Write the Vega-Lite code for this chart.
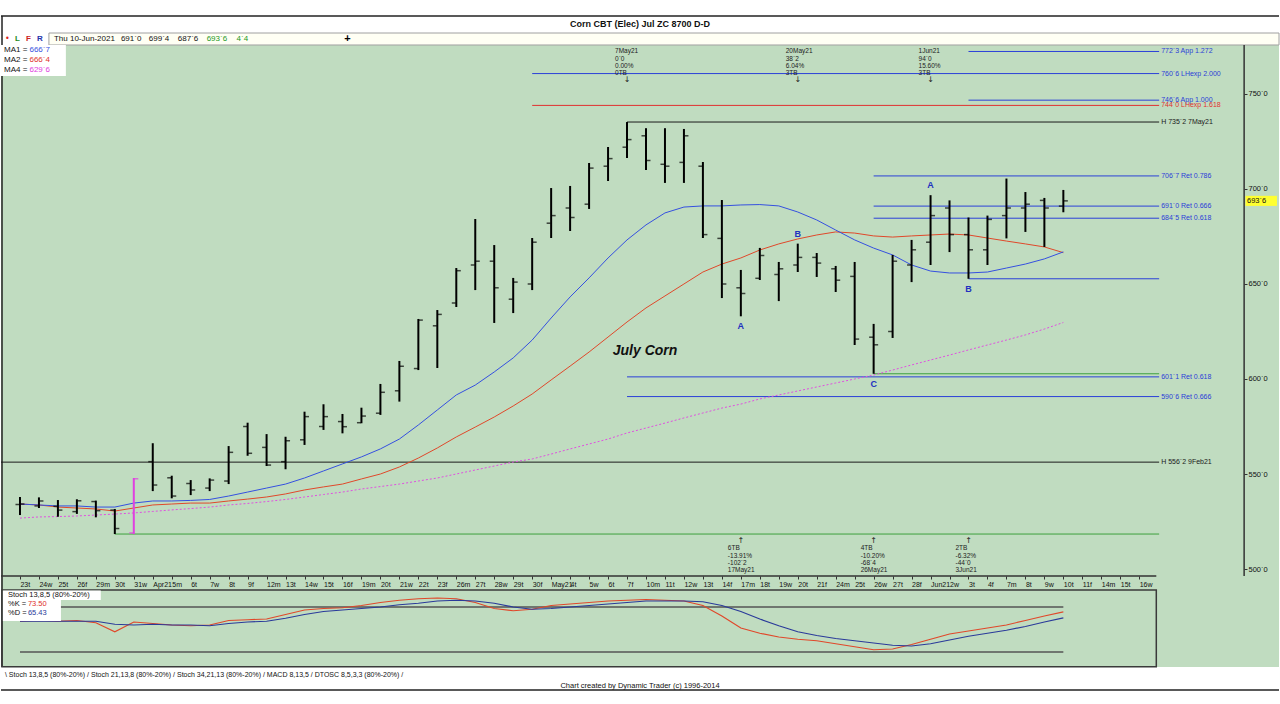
{
"$schema": "https://vega.github.io/schema/vega-lite/v6.json",
"width": 1280, "height": 704,
"autosize": {"type": "fit", "contains": "padding"},
"padding": 0,
"background": "#ffffff",
"config": {"view": {"stroke": null, "fill": "#C0DCC0"}, "text": {"font": "Liberation Sans"}, "axis": {"labelFont": "Liberation Sans"}},
"data": {"values": [{}]},
"datasets": {
"bars": [
{"i":0,"d":"2021-03-23","o":534,"h":537.9,"l":528.4,"c":534.2,"ma1":534.2,"ma2":534.2,"ma4":526.8,"k":61,"sd":61},
{"i":1,"d":"2021-03-24","o":533.2,"h":537.7,"l":532.1,"c":535.8,"ma1":533.7,"ma2":533.7,"ma4":527.4,"k":62,"sd":61},
{"i":2,"d":"2021-03-25","o":533,"h":536.3,"l":527.5,"c":531,"ma1":533.2,"ma2":532.6,"ma4":527.6,"k":61,"sd":61},
{"i":3,"d":"2021-03-26","o":530.2,"h":536.7,"l":529,"c":535.9,"ma1":533.2,"ma2":532.1,"ma4":527.9,"k":62,"sd":61},
{"i":4,"d":"2021-03-29","o":535.5,"h":536,"l":527.2,"c":530.7,"ma1":532.6,"ma2":531.6,"ma4":528.4,"k":59,"sd":61},
{"i":5,"d":"2021-03-30","o":531,"h":531.6,"l":518.4,"c":521.3,"ma1":532.6,"ma2":530.5,"ma4":528.9,"k":47,"sd":57},
{"i":6,"d":"2021-03-31","o":519,"h":547.9,"l":518.4,"c":547.5,"ma1":534.7,"ma2":532.1,"ma4":529.5,"k":60,"sd":56},
{"i":7,"d":"2021-04-01","o":556.5,"h":566.2,"l":541,"c":544.2,"ma1":535.8,"ma2":533.7,"ma4":530.3,"k":58,"sd":57},
{"i":8,"d":"2021-04-05","o":548,"h":549.1,"l":537.2,"c":538.4,"ma1":535.8,"ma2":534.2,"ma4":531.1,"k":56,"sd":56},
{"i":9,"d":"2021-04-06","o":545,"h":546.8,"l":538.9,"c":541.6,"ma1":536.1,"ma2":534.7,"ma4":531.8,"k":55,"sd":56},
{"i":10,"d":"2021-04-07","o":542.6,"h":547.7,"l":541,"c":546.8,"ma1":536.6,"ma2":534.7,"ma4":532.6,"k":56,"sd":55},
{"i":11,"d":"2021-04-08","o":546.3,"h":564.7,"l":544.7,"c":561.4,"ma1":538.4,"ma2":535.8,"ma4":533.7,"k":62,"sd":58},
{"i":12,"d":"2021-04-09","o":575,"h":577,"l":559.6,"c":560.9,"ma1":540.5,"ma2":536.8,"ma4":534.5,"k":63,"sd":60},
{"i":13,"d":"2021-04-12","o":564,"h":571,"l":554.2,"c":554.7,"ma1":542.6,"ma2":537.9,"ma4":535.5,"k":64,"sd":61},
{"i":14,"d":"2021-04-13","o":556.5,"h":569.6,"l":552.5,"c":567.5,"ma1":544.7,"ma2":539.5,"ma4":536.6,"k":70,"sd":65},
{"i":15,"d":"2021-04-14","o":568,"h":582.8,"l":565.3,"c":580.2,"ma1":547.9,"ma2":541.6,"ma4":537.9,"k":76,"sd":70},
{"i":16,"d":"2021-04-15","o":575,"h":586.7,"l":573.2,"c":580.2,"ma1":551.6,"ma2":543.2,"ma4":539.2,"k":78,"sd":74},
{"i":17,"d":"2021-04-16","o":577.6,"h":581.6,"l":571.4,"c":574.9,"ma1":555.3,"ma2":544.7,"ma4":540.5,"k":79,"sd":76},
{"i":18,"d":"2021-04-19","o":577,"h":584.9,"l":576.7,"c":580.5,"ma1":559,"ma2":547.4,"ma4":542.1,"k":82,"sd":78},
{"i":19,"d":"2021-04-20","o":582,"h":597.4,"l":581.1,"c":593,"ma1":563.2,"ma2":550,"ma4":543.4,"k":86,"sd":80},
{"i":20,"d":"2021-04-21","o":593.8,"h":609.5,"l":588.1,"c":606.7,"ma1":568.4,"ma2":553.7,"ma4":544.7,"k":89,"sd":83},
{"i":21,"d":"2021-04-22","o":605.5,"h":631.6,"l":604.7,"c":631,"ma1":575.8,"ma2":558.4,"ma4":546.3,"k":91,"sd":85},
{"i":22,"d":"2021-04-23","o":628,"h":636.3,"l":605.8,"c":634,"ma1":583.7,"ma2":563.7,"ma4":547.9,"k":92,"sd":88},
{"i":23,"d":"2021-04-26","o":640,"h":658.4,"l":637.9,"c":657,"ma1":591.6,"ma2":569.5,"ma4":550,"k":91,"sd":89},
{"i":24,"d":"2021-04-27","o":660,"h":684.2,"l":646.8,"c":662,"ma1":596.8,"ma2":574.7,"ma4":552.1,"k":86,"sd":88},
{"i":25,"d":"2021-04-28","o":662,"h":670.5,"l":629.5,"c":648,"ma1":603.7,"ma2":580,"ma4":554.2,"k":78,"sd":85},
{"i":26,"d":"2021-04-29","o":642,"h":653.2,"l":634.7,"c":651,"ma1":611.1,"ma2":585.8,"ma4":556.3,"k":75,"sd":80},
{"i":27,"d":"2021-04-30","o":650,"h":674.2,"l":646.8,"c":672,"ma1":620.5,"ma2":592.1,"ma4":557.9,"k":77,"sd":77},
{"i":28,"d":"2021-05-03","o":682,"h":700.5,"l":674.2,"c":686,"ma1":632.1,"ma2":599.5,"ma4":560.5,"k":82,"sd":78},
{"i":29,"d":"2021-05-04","o":690,"h":701.6,"l":677.9,"c":685,"ma1":643.2,"ma2":606.8,"ma4":563.2,"k":84,"sd":80},
{"i":30,"d":"2021-05-05","o":692,"h":713.7,"l":689.5,"c":711,"ma1":653.2,"ma2":614.2,"ma4":565.8,"k":86,"sd":82},
{"i":31,"d":"2021-05-06","o":712,"h":722.1,"l":704.2,"c":716,"ma1":663.7,"ma2":622.1,"ma4":568.4,"k":88,"sd":84},
{"i":32,"d":"2021-05-07","o":722,"h":735.25,"l":716.3,"c":726,"ma1":673.2,"ma2":630,"ma4":571.6,"k":89,"sd":86},
{"i":33,"d":"2021-05-10","o":728,"h":732,"l":710,"c":715,"ma1":681.1,"ma2":637.4,"ma4":574.2,"k":90,"sd":88},
{"i":34,"d":"2021-05-11","o":713,"h":732,"l":703.2,"c":712,"ma1":687.4,"ma2":643.7,"ma4":576.8,"k":89,"sd":88},
{"i":35,"d":"2021-05-12","o":714,"h":731.6,"l":703.2,"c":728,"ma1":690.5,"ma2":650,"ma4":579.5,"k":88,"sd":88},
{"i":36,"d":"2021-05-13","o":712,"h":714.2,"l":674.2,"c":676,"ma1":691.1,"ma2":656.3,"ma4":582.1,"k":82,"sd":87},
{"i":37,"d":"2021-05-14","o":674,"h":694.2,"l":642.6,"c":650,"ma1":691.1,"ma2":660.5,"ma4":584.7,"k":68,"sd":82},
{"i":38,"d":"2021-05-17","o":648,"h":657.4,"l":633,"c":645,"ma1":691.6,"ma2":663.7,"ma4":586.8,"k":52,"sd":74},
{"i":39,"d":"2021-05-18","o":653,"h":669,"l":652.1,"c":665,"ma1":691.8,"ma2":667.9,"ma4":589.5,"k":45,"sd":64},
{"i":40,"d":"2021-05-19","o":655,"h":661.6,"l":641,"c":658,"ma1":691.1,"ma2":671.1,"ma4":591.6,"k":40,"sd":55},
{"i":41,"d":"2021-05-20","o":660,"h":671.25,"l":656.3,"c":664,"ma1":687.9,"ma2":673.7,"ma4":593.7,"k":37,"sd":47},
{"i":42,"d":"2021-05-21","o":664,"h":666.3,"l":653.7,"c":661,"ma1":683.7,"ma2":675.8,"ma4":595.8,"k":35,"sd":42},
{"i":43,"d":"2021-05-24","o":658,"h":659.5,"l":645.8,"c":652,"ma1":678.4,"ma2":677.4,"ma4":597.9,"k":31,"sd":38},
{"i":44,"d":"2021-05-25","o":654,"h":661.6,"l":617.9,"c":621,"ma1":673.2,"ma2":676.8,"ma4":600,"k":27,"sd":35},
{"i":45,"d":"2021-05-26","o":622,"h":629,"l":602.75,"c":618,"ma1":668.9,"ma2":675.3,"ma4":602.1,"k":23,"sd":32},
{"i":46,"d":"2021-05-27","o":625,"h":665.3,"l":621.6,"c":662,"ma1":665.3,"ma2":674.7,"ma4":604.7,"k":24,"sd":29},
{"i":47,"d":"2021-05-28","o":660,"h":673.2,"l":651,"c":668,"ma1":660,"ma2":675.3,"ma4":607.4,"k":30,"sd":28},
{"i":48,"d":"2021-06-01","o":672,"h":696.75,"l":660,"c":686,"ma1":656.8,"ma2":675.8,"ma4":610,"k":37,"sd":31},
{"i":49,"d":"2021-06-02","o":690,"h":694,"l":666.8,"c":676,"ma1":655.8,"ma2":676.3,"ma4":612.6,"k":44,"sd":36},
{"i":50,"d":"2021-06-03","o":676,"h":685,"l":652.75,"c":668,"ma1":655.8,"ma2":675.8,"ma4":615.3,"k":48,"sd":41},
{"i":51,"d":"2021-06-04","o":668,"h":686,"l":660,"c":684,"ma1":656.3,"ma2":674.2,"ma4":617.9,"k":52,"sd":45},
{"i":52,"d":"2021-06-07","o":686,"h":705.5,"l":674,"c":690,"ma1":658.4,"ma2":672.6,"ma4":620.5,"k":56,"sd":49},
{"i":53,"d":"2021-06-08","o":690,"h":698.4,"l":677.4,"c":692,"ma1":660.5,"ma2":671.1,"ma4":623.2,"k":62,"sd":54},
{"i":54,"d":"2021-06-09","o":694,"h":695.3,"l":669.5,"c":690,"ma1":663.2,"ma2":669.5,"ma4":626.3,"k":68,"sd":60},
{"i":55,"d":"2021-06-10","o":691,"h":699.5,"l":687.75,"c":693.75,"ma1":666.9,"ma2":666.5,"ma4":629.75,"k":73.5,"sd":65.43}
],
"levels": [
{"price":772.375,"from":50,"label":"772`3 App 1.272","group":"fib"},
{"price":760.75,"from":27,"label":"760`6 LHexp 2.000","group":"fib"},
{"price":746.75,"from":50,"label":"746`6 App 1.000","group":"fib"},
{"price":744.0,"from":27,"label":"744`0 LHexp 1.618","group":"exp"},
{"price":735.25,"from":32,"label":"H 735`2 7May21","group":"swing"},
{"price":706.875,"from":45,"label":"706`7 Ret 0.786","group":"fib"},
{"price":691.0,"from":45,"label":"691`0 Ret 0.666","group":"fib"},
{"price":684.625,"from":45,"label":"684`5 Ret 0.618","group":"fib"},
{"price":652.75,"from":50,"label":"","group":"fib"},
{"price":602.75,"from":45,"label":"","group":"base"},
{"price":601.125,"from":32,"label":"601`1 Ret 0.618","group":"fib"},
{"price":590.75,"from":32,"label":"590`6 Ret 0.666","group":"fib"},
{"price":556.25,"from":-1,"label":"H 556`2 9Feb21","group":"swing"},
{"price":518.4,"from":5,"label":"","group":"base"}
],
"pivots": [
{"i":32,"side":"top","text":"7May21\n0`0\n0.00%\n0TB"},
{"i":41,"side":"top","text":"20May21\n38`2\n6.04%\n3TB"},
{"i":48,"side":"top","text":"1Jun21\n94`0\n15.60%\n3TB"},
{"i":38,"side":"bottom","text":"6TB\n-13.91%\n-102`2\n17May21"},
{"i":45,"side":"bottom","text":"4TB\n-10.20%\n-68`4\n26May21"},
{"i":50,"side":"bottom","text":"2TB\n-6.32%\n-44`0\n3Jun21"}
],
"waves": [
{"i":38,"label":"A","price":633,"side":"below"},
{"i":41,"label":"B","price":671.25,"side":"above"},
{"i":45,"label":"C","price":602.75,"side":"below"},
{"i":48,"label":"A","price":696.75,"side":"above"},
{"i":50,"label":"B","price":652.75,"side":"below"}
]
},
"layer": [
{"mark": {"type": "rect", "color": "#ffffff"},
 "encoding": {"x": {"datum": -1, "type": "quantitative", "scale": {"domain": [-1, 66.368], "nice": false, "zero": false}, "axis": null}, "x2": {"datum": 66.368},
  "y": {"datum": 799.47, "type": "quantitative", "scale": {"domain": [428.95, 799.47], "nice": false, "zero": false}, "axis": null}, "y2": {"datum": 775.79}}},
{"mark": {"type": "rect", "fill": "#FFFFF4", "stroke": "#A0A0A0", "strokeWidth": 1},
 "encoding": {"x": {"datum": 1.526, "type": "quantitative", "axis": null}, "x2": {"datum": 66.368}, "y": {"datum": 782.1, "type": "quantitative", "scale": {"domain": [428.95, 799.47], "nice": false, "zero": false}, "axis": null}, "y2": {"datum": 775.79}}},
{"mark": {"type": "rule", "color": "#222222", "strokeWidth": 1.5},
 "encoding": {"x": {"datum": -1, "type": "quantitative", "axis": null}, "x2": {"datum": 66.368}, "y": {"datum": 791.05, "type": "quantitative", "scale": {"domain": [428.95, 799.47], "nice": false, "zero": false}, "axis": null}}},
{"mark": {"type": "rule", "color": "#222222", "strokeWidth": 1.5},
 "encoding": {"x": {"datum": -0.947, "type": "quantitative", "axis": null}, "y": {"datum": 791.05, "type": "quantitative", "scale": {"domain": [428.95, 799.47], "nice": false, "zero": false}, "axis": null}, "y2": {"datum": 436.3}}},
{"mark": {"type": "text", "fontSize": 9, "fontWeight": "bold", "color": "#111111", "align": "center", "baseline": "middle"},
 "encoding": {"x": {"datum": 32.684, "type": "quantitative", "axis": null}, "y": {"datum": 786.84, "type": "quantitative", "scale": {"domain": [428.95, 799.47], "nice": false, "zero": false}, "axis": null}, "text": {"value": "Corn CBT (Elec) Jul ZC 8700 D-D"}}},
{"mark": {"type": "text", "fontSize": 8, "color": "#DD2222", "align": "left", "baseline": "middle", "font": "DejaVu Sans"},
 "encoding": {"x": {"datum": -0.79, "type": "quantitative", "axis": null}, "y": {"datum": 778.95, "type": "quantitative", "scale": {"domain": [428.95, 799.47], "nice": false, "zero": false}, "axis": null}, "text": {"value": "•"}}},
{"mark": {"type": "text", "fontSize": 8, "fontWeight": "bold", "color": "#228822", "align": "left", "baseline": "middle"},
 "encoding": {"x": {"datum": -0.26, "type": "quantitative", "axis": null}, "y": {"datum": 778.95, "type": "quantitative", "scale": {"domain": [428.95, 799.47], "nice": false, "zero": false}, "axis": null}, "text": {"value": "L"}}},
{"mark": {"type": "text", "fontSize": 8, "fontWeight": "bold", "color": "#CC2222", "align": "left", "baseline": "middle"},
 "encoding": {"x": {"datum": 0.32, "type": "quantitative", "axis": null}, "y": {"datum": 778.95, "type": "quantitative", "scale": {"domain": [428.95, 799.47], "nice": false, "zero": false}, "axis": null}, "text": {"value": "F"}}},
{"mark": {"type": "text", "fontSize": 8, "fontWeight": "bold", "color": "#2233AA", "align": "left", "baseline": "middle"},
 "encoding": {"x": {"datum": 0.9, "type": "quantitative", "axis": null}, "y": {"datum": 778.95, "type": "quantitative", "scale": {"domain": [428.95, 799.47], "nice": false, "zero": false}, "axis": null}, "text": {"value": "R"}}},
{"mark": {"type": "text", "fontSize": 8, "color": "#111111", "align": "left", "baseline": "middle"},
 "encoding": {"x": {"datum": 1.79, "type": "quantitative", "axis": null}, "y": {"datum": 778.95, "type": "quantitative", "scale": {"domain": [428.95, 799.47], "nice": false, "zero": false}, "axis": null}, "text": {"value": "Thu 10-Jun-2021"}}},
{"mark": {"type": "text", "fontSize": 8, "color": "#111111", "align": "left", "baseline": "middle"},
 "encoding": {"x": {"datum": 5.32, "type": "quantitative", "axis": null}, "y": {"datum": 778.95, "type": "quantitative", "scale": {"domain": [428.95, 799.47], "nice": false, "zero": false}, "axis": null}, "text": {"value": "691`0"}}},
{"mark": {"type": "text", "fontSize": 8, "color": "#111111", "align": "left", "baseline": "middle"},
 "encoding": {"x": {"datum": 6.79, "type": "quantitative", "axis": null}, "y": {"datum": 778.95, "type": "quantitative", "scale": {"domain": [428.95, 799.47], "nice": false, "zero": false}, "axis": null}, "text": {"value": "699`4"}}},
{"mark": {"type": "text", "fontSize": 8, "color": "#111111", "align": "left", "baseline": "middle"},
 "encoding": {"x": {"datum": 8.32, "type": "quantitative", "axis": null}, "y": {"datum": 778.95, "type": "quantitative", "scale": {"domain": [428.95, 799.47], "nice": false, "zero": false}, "axis": null}, "text": {"value": "687`6"}}},
{"mark": {"type": "text", "fontSize": 8, "color": "#229922", "align": "left", "baseline": "middle"},
 "encoding": {"x": {"datum": 9.84, "type": "quantitative", "axis": null}, "y": {"datum": 778.95, "type": "quantitative", "scale": {"domain": [428.95, 799.47], "nice": false, "zero": false}, "axis": null}, "text": {"value": "693`6"}}},
{"mark": {"type": "text", "fontSize": 8, "color": "#229922", "align": "left", "baseline": "middle"},
 "encoding": {"x": {"datum": 11.42, "type": "quantitative", "axis": null}, "y": {"datum": 778.95, "type": "quantitative", "scale": {"domain": [428.95, 799.47], "nice": false, "zero": false}, "axis": null}, "text": {"value": "4`4"}}},
{"mark": {"type": "text", "fontSize": 11, "fontWeight": "bold", "color": "#000000", "align": "center", "baseline": "middle"},
 "encoding": {"x": {"datum": 17.26, "type": "quantitative", "axis": null}, "y": {"datum": 778.95, "type": "quantitative", "scale": {"domain": [428.95, 799.47], "nice": false, "zero": false}, "axis": null}, "text": {"value": "+"}}},
{"data": {"name": "levels"},
 "mark": {"type": "rule", "strokeWidth": 1},
 "encoding": {"x": {"field": "from", "type": "quantitative", "axis": null}, "x2": {"datum": 60.05}, "y": {"field": "price", "type": "quantitative", "scale": {"domain": [428.95, 799.47], "nice": false, "zero": false}, "axis": null},
  "color": {"field": "group", "type": "nominal", "scale": {"domain": ["fib", "exp", "swing", "base"], "range": ["#2B40D8", "#E03030", "#1A1A1A", "#3CA03C"]}, "legend": null}}},
{"data": {"name": "levels"},
 "mark": {"type": "text", "fontSize": 7, "align": "left", "baseline": "middle", "dx": 2},
 "encoding": {"x": {"datum": 60.05, "type": "quantitative", "axis": null}, "y": {"field": "price", "type": "quantitative", "scale": {"domain": [428.95, 799.47], "nice": false, "zero": false}, "axis": null}, "text": {"field": "label"},
  "color": {"field": "group", "type": "nominal", "legend": null}}},
{"data": {"name": "bars"},
 "mark": {"type": "line", "color": "#E050E0", "strokeWidth": 1, "strokeDash": [2, 2]},
 "encoding": {"x": {"field": "i", "type": "quantitative", "axis": null}, "y": {"field": "ma4", "type": "quantitative", "scale": {"domain": [428.95, 799.47], "nice": false, "zero": false}, "axis": null}}},
{"data": {"name": "bars"},
 "mark": {"type": "line", "color": "#E0482A", "strokeWidth": 1},
 "encoding": {"x": {"field": "i", "type": "quantitative", "axis": null}, "y": {"field": "ma2", "type": "quantitative", "scale": {"domain": [428.95, 799.47], "nice": false, "zero": false}, "axis": null}}},
{"data": {"name": "bars"},
 "mark": {"type": "line", "color": "#3550E0", "strokeWidth": 1},
 "encoding": {"x": {"field": "i", "type": "quantitative", "axis": null}, "y": {"field": "ma1", "type": "quantitative", "scale": {"domain": [428.95, 799.47], "nice": false, "zero": false}, "axis": null}}},
{"data": {"name": "bars"},
 "mark": {"type": "rule", "strokeWidth": 2},
 "encoding": {
  "x": {"field": "i", "type": "quantitative", "axis": {"orient": "bottom", "offset": -128, "zindex": 1, "values": [0,1,2,3,4,5,6,7,8,9,10,11,12,13,14,15,16,17,18,19,20,21,22,23,24,25,26,27,28,29,30,31,32,33,34,35,36,37,38,39,40,41,42,43,44,45,46,47,48,49,50,51,52,53,54,55,56,57,58,59],
   "labelExpr": "['23t','24w','25t','26f','29m','30t','31w','Apr21','5m','6t','7w','8t','9f','12m','13t','14w','15t','16f','19m','20t','21w','22t','23f','26m','27t','28w','29t','30f','May21','4t','5w','6t','7f','10m','11t','12w','13t','14f','17m','18t','19w','20t','21f','24m','25t','26w','27t','28f','Jun21','2w','3t','4f','7m','8t','9w','10t','11f','14m','15t','16w'][datum.value]",
   "domain": false, "grid": false, "ticks": true, "tickSize": 3, "tickColor": "#333333", "labelFontSize": 7, "labelColor": "#111111", "labelAlign": "left", "labelDx": 1, "labelPadding": 1, "labelOverlap": false, "labelFlush": false, "labelBound": false, "title": null}},
  "y": {"field": "l", "type": "quantitative", "scale": {"domain": [428.95, 799.47], "nice": false, "zero": false}, "axis": {"orient": "right", "offset": -35, "zindex": 1, "values": [500, 550, 600, 650, 700, 750], "labelExpr": "datum.value + '`0'", "domain": false, "grid": false, "tickSize": 3, "tickColor": "#333333", "labelFontSize": 7.5, "labelColor": "#111111", "labelPadding": 1, "labelOverlap": false, "title": null}},
  "y2": {"field": "h"},
  "color": {"condition": {"test": "datum.i == 6", "value": "#E040E0"}, "value": "#000000"}}},
{"data": {"name": "bars"},
 "mark": {"type": "tick", "orient": "horizontal", "size": 4, "thickness": 1.5, "xOffset": -2.5},
 "encoding": {"x": {"field": "i", "type": "quantitative", "axis": null}, "y": {"field": "o", "type": "quantitative", "scale": {"domain": [428.95, 799.47], "nice": false, "zero": false}, "axis": null},
  "color": {"condition": {"test": "datum.i == 6", "value": "#E040E0"}, "value": "#000000"}}},
{"data": {"name": "bars"},
 "mark": {"type": "tick", "orient": "horizontal", "size": 4, "thickness": 1.5, "xOffset": 2.5},
 "encoding": {"x": {"field": "i", "type": "quantitative", "axis": null}, "y": {"field": "c", "type": "quantitative", "scale": {"domain": [428.95, 799.47], "nice": false, "zero": false}, "axis": null},
  "color": {"condition": {"test": "datum.i == 6", "value": "#E040E0"}, "value": "#000000"}}},
{"data": {"name": "waves"}, "transform": [{"filter": "datum.side == 'above'"}],
 "mark": {"type": "text", "fontSize": 9, "fontWeight": "bold", "color": "#2030C0", "align": "center", "baseline": "middle", "dy": -10},
 "encoding": {"x": {"field": "i", "type": "quantitative", "axis": null}, "y": {"field": "price", "type": "quantitative", "scale": {"domain": [428.95, 799.47], "nice": false, "zero": false}, "axis": null}, "text": {"field": "label"}}},
{"data": {"name": "waves"}, "transform": [{"filter": "datum.side == 'below'"}],
 "mark": {"type": "text", "fontSize": 9, "fontWeight": "bold", "color": "#2030C0", "align": "center", "baseline": "middle", "dy": 10},
 "encoding": {"x": {"field": "i", "type": "quantitative", "axis": null}, "y": {"field": "price", "type": "quantitative", "scale": {"domain": [428.95, 799.47], "nice": false, "zero": false}, "axis": null}, "text": {"field": "label"}}},
{"data": {"name": "pivots"}, "transform": [{"filter": "datum.side == 'top'"}],
 "mark": {"type": "text", "fontSize": 6.5, "color": "#222222", "align": "left", "baseline": "top", "lineBreak": "\n", "lineHeight": 7.3, "dx": -12},
 "encoding": {"x": {"field": "i", "type": "quantitative", "axis": null}, "y": {"datum": 774.0, "type": "quantitative", "scale": {"domain": [428.95, 799.47], "nice": false, "zero": false}, "axis": null}, "text": {"field": "text"}}},
{"data": {"name": "pivots"}, "transform": [{"filter": "datum.side == 'top'"}],
 "mark": {"type": "text", "fontSize": 8, "color": "#222222", "align": "center", "baseline": "middle", "font": "DejaVu Sans"},
 "encoding": {"x": {"field": "i", "type": "quantitative", "axis": null}, "y": {"datum": 757.4, "type": "quantitative", "scale": {"domain": [428.95, 799.47], "nice": false, "zero": false}, "axis": null}, "text": {"value": "↓"}}},
{"data": {"name": "pivots"}, "transform": [{"filter": "datum.side == 'bottom'"}],
 "mark": {"type": "text", "fontSize": 6.5, "color": "#222222", "align": "left", "baseline": "top", "lineBreak": "\n", "lineHeight": 7.2, "dx": -13},
 "encoding": {"x": {"field": "i", "type": "quantitative", "axis": null}, "y": {"datum": 512.4, "type": "quantitative", "scale": {"domain": [428.95, 799.47], "nice": false, "zero": false}, "axis": null}, "text": {"field": "text"}}},
{"data": {"name": "pivots"}, "transform": [{"filter": "datum.side == 'bottom'"}],
 "mark": {"type": "text", "fontSize": 8, "color": "#222222", "align": "center", "baseline": "middle", "font": "DejaVu Sans"},
 "encoding": {"x": {"field": "i", "type": "quantitative", "axis": null}, "y": {"datum": 514.7, "type": "quantitative", "scale": {"domain": [428.95, 799.47], "nice": false, "zero": false}, "axis": null}, "text": {"value": "↑"}}},
{"mark": {"type": "text", "fontSize": 14, "fontWeight": "bold", "fontStyle": "italic", "color": "#111111", "align": "center", "baseline": "middle"},
 "encoding": {"x": {"datum": 32.95, "type": "quantitative", "axis": null}, "y": {"datum": 614.7, "type": "quantitative", "scale": {"domain": [428.95, 799.47], "nice": false, "zero": false}, "axis": null}, "text": {"value": "July Corn"}}},
{"mark": {"type": "rect", "color": "#ffffff"},
 "encoding": {"x": {"datum": -1, "type": "quantitative", "axis": null}, "x2": {"datum": 2.42}, "y": {"datum": 775.79, "type": "quantitative", "scale": {"domain": [428.95, 799.47], "nice": false, "zero": false}, "axis": null}, "y2": {"datum": 759.47}}},
{"mark": {"type": "text", "fontSize": 8, "color": "#111111", "align": "left", "baseline": "middle"},
 "encoding": {"x": {"datum": -0.84, "type": "quantitative", "axis": null}, "y": {"datum": 773.16, "type": "quantitative", "scale": {"domain": [428.95, 799.47], "nice": false, "zero": false}, "axis": null}, "text": {"value": "MA1 ="}}},
{"mark": {"type": "text", "fontSize": 8, "color": "#111111", "align": "left", "baseline": "middle"},
 "encoding": {"x": {"datum": -0.84, "type": "quantitative", "axis": null}, "y": {"datum": 767.89, "type": "quantitative", "scale": {"domain": [428.95, 799.47], "nice": false, "zero": false}, "axis": null}, "text": {"value": "MA2 ="}}},
{"mark": {"type": "text", "fontSize": 8, "color": "#111111", "align": "left", "baseline": "middle"},
 "encoding": {"x": {"datum": -0.84, "type": "quantitative", "axis": null}, "y": {"datum": 762.63, "type": "quantitative", "scale": {"domain": [428.95, 799.47], "nice": false, "zero": false}, "axis": null}, "text": {"value": "MA4 ="}}},
{"mark": {"type": "text", "fontSize": 8, "color": "#3550E0", "align": "left", "baseline": "middle"},
 "encoding": {"x": {"datum": 0.5, "type": "quantitative", "axis": null}, "y": {"datum": 773.16, "type": "quantitative", "scale": {"domain": [428.95, 799.47], "nice": false, "zero": false}, "axis": null}, "text": {"value": "666`7"}}},
{"mark": {"type": "text", "fontSize": 8, "color": "#E0302A", "align": "left", "baseline": "middle"},
 "encoding": {"x": {"datum": 0.5, "type": "quantitative", "axis": null}, "y": {"datum": 767.89, "type": "quantitative", "scale": {"domain": [428.95, 799.47], "nice": false, "zero": false}, "axis": null}, "text": {"value": "666`4"}}},
{"mark": {"type": "text", "fontSize": 8, "color": "#E040E0", "align": "left", "baseline": "middle"},
 "encoding": {"x": {"datum": 0.5, "type": "quantitative", "axis": null}, "y": {"datum": 762.63, "type": "quantitative", "scale": {"domain": [428.95, 799.47], "nice": false, "zero": false}, "axis": null}, "text": {"value": "629`6"}}},
{"mark": {"type": "rule", "color": "#333333", "strokeWidth": 1.5},
 "encoding": {"x": {"datum": -1, "type": "quantitative", "axis": null}, "x2": {"datum": 59.9}, "y": {"datum": 496.3, "type": "quantitative", "scale": {"domain": [428.95, 799.47], "nice": false, "zero": false}, "axis": null}}},
{"mark": {"type": "rule", "color": "#333333", "strokeWidth": 1.5},
 "encoding": {"x": {"datum": 64.53, "type": "quantitative", "axis": null}, "y": {"datum": 775.79, "type": "quantitative", "scale": {"domain": [428.95, 799.47], "nice": false, "zero": false}, "axis": null}, "y2": {"datum": 496.3}}},
{"mark": {"type": "rect", "color": "#FFFF30"},
 "encoding": {"x": {"datum": 64.6, "type": "quantitative", "axis": null}, "x2": {"datum": 66.26}, "y": {"datum": 696.4, "type": "quantitative", "scale": {"domain": [428.95, 799.47], "nice": false, "zero": false}, "axis": null}, "y2": {"datum": 691.1}}},
{"mark": {"type": "text", "fontSize": 7.5, "color": "#111111", "align": "left", "baseline": "middle"},
 "encoding": {"x": {"datum": 64.68, "type": "quantitative", "axis": null}, "y": {"datum": 693.75, "type": "quantitative", "scale": {"domain": [428.95, 799.47], "nice": false, "zero": false}, "axis": null}, "text": {"value": "693`6"}}},
{"mark": {"type": "rect", "color": "#ffffff"},
 "encoding": {"x": {"datum": -1, "type": "quantitative", "axis": null}, "x2": {"datum": 66.368},
  "y": {"datum": 0, "type": "quantitative", "scale": {"domain": [-49.33, 889.33], "nice": false, "zero": false}, "axis": null}, "y2": {"datum": -49.33}}},
{"mark": {"type": "rect", "fillOpacity": 0, "stroke": "#3A3A3A", "strokeWidth": 1.5},
 "encoding": {"x": {"datum": -0.95, "type": "quantitative", "axis": null}, "x2": {"datum": 59.9}, "y": {"datum": 102.67, "type": "quantitative", "scale": {"domain": [-49.33, 889.33], "nice": false, "zero": false}, "axis": null}, "y2": {"datum": 0.3}}},
{"data": {"values": [{"level": 80}, {"level": 20}]},
 "mark": {"type": "rule", "color": "#555555", "strokeWidth": 1.5},
 "encoding": {"x": {"datum": 0, "type": "quantitative", "axis": null}, "x2": {"datum": 55}, "y": {"field": "level", "type": "quantitative", "scale": {"domain": [-49.33, 889.33], "nice": false, "zero": false}, "axis": null}}},
{"data": {"name": "bars"},
 "mark": {"type": "line", "color": "#E0482A", "strokeWidth": 1.2},
 "encoding": {"x": {"field": "i", "type": "quantitative", "axis": null}, "y": {"field": "k", "type": "quantitative", "scale": {"domain": [-49.33, 889.33], "nice": false, "zero": false}, "axis": null}}},
{"data": {"name": "bars"},
 "mark": {"type": "line", "color": "#2A3A9A", "strokeWidth": 1.2},
 "encoding": {"x": {"field": "i", "type": "quantitative", "axis": null}, "y": {"field": "sd", "type": "quantitative", "scale": {"domain": [-49.33, 889.33], "nice": false, "zero": false}, "axis": null}}},
{"mark": {"type": "rect", "color": "#ffffff"},
 "encoding": {"x": {"datum": -0.9, "type": "quantitative", "axis": null}, "x2": {"datum": 4.26}, "y": {"datum": 101.9, "type": "quantitative", "scale": {"domain": [-49.33, 889.33], "nice": false, "zero": false}, "axis": null}, "y2": {"datum": 89.33}}},
{"mark": {"type": "rect", "color": "#ffffff"},
 "encoding": {"x": {"datum": -0.9, "type": "quantitative", "axis": null}, "x2": {"datum": 2.16}, "y": {"datum": 89.33, "type": "quantitative", "scale": {"domain": [-49.33, 889.33], "nice": false, "zero": false}, "axis": null}, "y2": {"datum": 61.33}}},
{"mark": {"type": "text", "fontSize": 7.5, "color": "#111111", "align": "left", "baseline": "middle"},
 "encoding": {"x": {"datum": -0.63, "type": "quantitative", "axis": null}, "y": {"datum": 96, "type": "quantitative", "scale": {"domain": [-49.33, 889.33], "nice": false, "zero": false}, "axis": null}, "text": {"value": "Stoch 13,8,5 (80%-20%)"}}},
{"mark": {"type": "text", "fontSize": 7.5, "color": "#111111", "align": "left", "baseline": "middle"},
 "encoding": {"x": {"datum": -0.63, "type": "quantitative", "axis": null}, "y": {"datum": 84, "type": "quantitative", "scale": {"domain": [-49.33, 889.33], "nice": false, "zero": false}, "axis": null}, "text": {"value": "%K ="}}},
{"mark": {"type": "text", "fontSize": 7.5, "color": "#111111", "align": "left", "baseline": "middle"},
 "encoding": {"x": {"datum": -0.63, "type": "quantitative", "axis": null}, "y": {"datum": 72, "type": "quantitative", "scale": {"domain": [-49.33, 889.33], "nice": false, "zero": false}, "axis": null}, "text": {"value": "%D ="}}},
{"mark": {"type": "text", "fontSize": 7.5, "color": "#E0302A", "align": "left", "baseline": "middle"},
 "encoding": {"x": {"datum": 0.42, "type": "quantitative", "axis": null}, "y": {"datum": 84, "type": "quantitative", "scale": {"domain": [-49.33, 889.33], "nice": false, "zero": false}, "axis": null}, "text": {"value": "73.50"}}},
{"mark": {"type": "text", "fontSize": 7.5, "color": "#2A3A9A", "align": "left", "baseline": "middle"},
 "encoding": {"x": {"datum": 0.42, "type": "quantitative", "axis": null}, "y": {"datum": 72, "type": "quantitative", "scale": {"domain": [-49.33, 889.33], "nice": false, "zero": false}, "axis": null}, "text": {"value": "65.43"}}},
{"mark": {"type": "text", "fontSize": 7, "color": "#111111", "align": "left", "baseline": "middle"},
 "encoding": {"x": {"datum": -0.79, "type": "quantitative", "axis": null}, "y": {"datum": -11.3, "type": "quantitative", "scale": {"domain": [-49.33, 889.33], "nice": false, "zero": false}, "axis": null}, "text": {"value": "\\ Stoch 13,8,5 (80%-20%) / Stoch 21,13,8 (80%-20%) / Stoch 34,21,13 (80%-20%) / MACD 8,13,5 / DTOSC 8,5,3,3 (80%-20%) /"}}},
{"mark": {"type": "text", "fontSize": 7.5, "color": "#111111", "align": "center", "baseline": "middle"},
 "encoding": {"x": {"datum": 32.684, "type": "quantitative", "axis": null}, "y": {"datum": -25.3, "type": "quantitative", "scale": {"domain": [-49.33, 889.33], "nice": false, "zero": false}, "axis": null}, "text": {"value": "Chart created by Dynamic Trader  (c) 1996-2014"}}},
{"mark": {"type": "rule", "color": "#222222", "strokeWidth": 1.5},
 "encoding": {"x": {"datum": -1, "type": "quantitative", "axis": null}, "x2": {"datum": 66.368}, "y": {"datum": -30.67, "type": "quantitative", "scale": {"domain": [-49.33, 889.33], "nice": false, "zero": false}, "axis": null}}}
],
"resolve": {"scale": {"y": "independent"}, "axis": {"x": "independent"}}
}
